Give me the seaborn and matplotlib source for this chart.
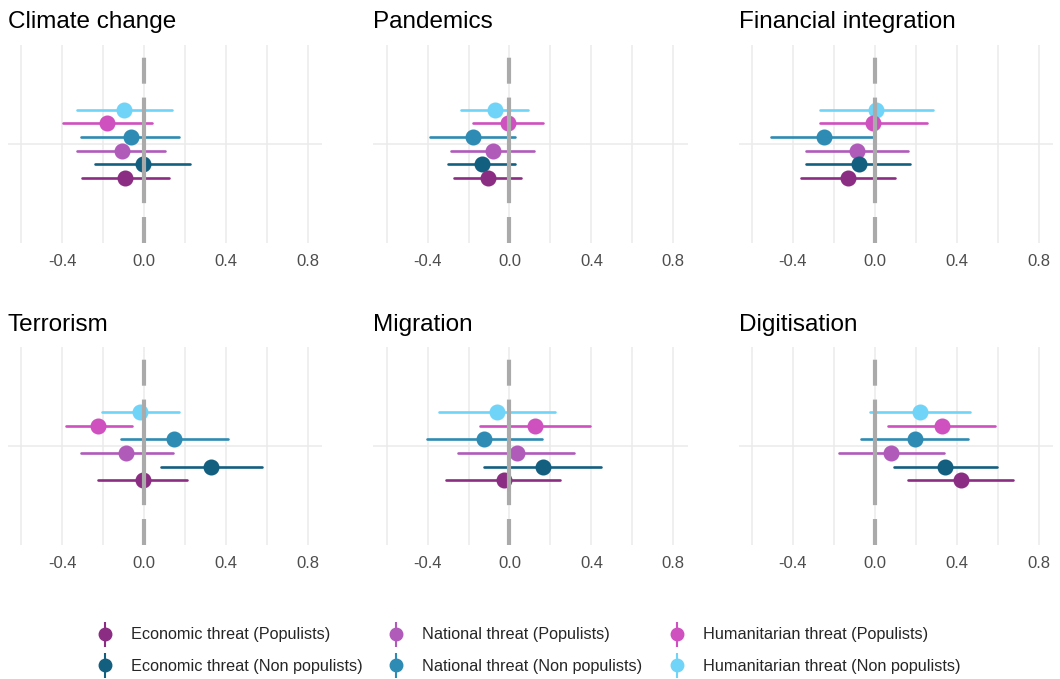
import numpy as np
import pandas as pd
import matplotlib
matplotlib.use("Agg")
import matplotlib.pyplot as plt
from matplotlib.lines import Line2D
import seaborn as sns

# Facets and series
facets = ["Climate change", "Pandemics", "Financial integration",
          "Terrorism", "Migration", "Digitisation"]
series = ["Economic threat (Populists)", "Economic threat (Non populists)",
          "National threat (Populists)", "National threat (Non populists)",
          "Humanitarian threat (Populists)", "Humanitarian threat (Non populists)"]
colors = ["#8B2D82", "#135F80", "#B05ABA", "#2E8BB3", "#CF50BF", "#70D4F8"]

# point estimates (rows = facets, columns = series)
est = [
    [-0.093, -0.008, -0.110, -0.065, -0.182, -0.098],
    [-0.106, -0.133, -0.081, -0.179, -0.008, -0.073],
    [-0.129, -0.077, -0.085, -0.248, -0.007, 0.008],
    [-0.008, 0.327, -0.087, 0.147, -0.224, -0.021],
    [-0.029, 0.166, 0.036, -0.122, 0.125, -0.060],
    [0.420, 0.344, 0.081, 0.197, 0.326, 0.220],
]
lower = [
    [-0.304, -0.239, -0.328, -0.306, -0.395, -0.330],
    [-0.272, -0.298, -0.285, -0.387, -0.179, -0.239],
    [-0.358, -0.334, -0.334, -0.508, -0.267, -0.267],
    [-0.224, 0.082, -0.307, -0.114, -0.384, -0.208],
    [-0.309, -0.122, -0.249, -0.403, -0.146, -0.345],
    [0.164, 0.094, -0.174, -0.065, 0.062, -0.023],
]
upper = [
    [0.122, 0.224, 0.102, 0.171, 0.036, 0.135],
    [0.057, 0.028, 0.119, 0.029, 0.166, 0.089],
    [0.098, 0.171, 0.163, -0.007, 0.257, 0.282],
    [0.209, 0.575, 0.139, 0.408, -0.057, 0.172],
    [0.249, 0.447, 0.314, 0.159, 0.395, 0.223],
    [0.673, 0.596, 0.339, 0.453, 0.588, 0.466],
]

# long table: lower / estimate / upper per series, median = estimate
rows = []
for i, f in enumerate(facets):
    for j, s in enumerate(series):
        for v in (lower[i][j], est[i][j], upper[i][j]):
            rows.append({"facet": f, "series": s, "value": v, "row": "all"})
df = pd.DataFrame(rows)

sns.set_style("white")
plt.rcParams["font.family"] = ["Liberation Sans", "DejaVu Sans"]
plt.rcParams["lines.scale_dashes"] = False

palette = dict(zip(series, colors))
hue_order = series[::-1]  # top of each panel = Humanitarian (Non populists)

fig, axes = plt.subplots(2, 3, figsize=(10.6, 6.79), dpi=100)
fig.subplots_adjust(left=0.0075, right=0.9934, top=0.9337, bottom=0.1974,
                    wspace=0.162, hspace=0.53)

for ax, f in zip(axes.flat, facets):
    sub = df[df["facet"] == f]
    sns.pointplot(data=sub, x="value", y="row", hue="series", hue_order=hue_order,
                  palette=palette, estimator="median",
                  errorbar=lambda v: (v.min(), v.max()),
                  dodge=0.4167, linestyle="none", markersize=9.5,
                  err_kws={"linewidth": 1.9}, orient="h", legend=False, ax=ax)
    ax.axvline(0, color="#AAAAAA", linewidth=3, zorder=5,
               dash_capstyle="butt", linestyle=(0, (18.7, 10, 76, 10, 18.7, 20)))
    ax.set_xlim(-0.665, 0.87)
    ax.set_ylim(0.6, -0.6)
    ax.set_xticks([-0.4, 0.0, 0.4, 0.8])
    ax.set_xticklabels(["-0.4", "0.0", "0.4", "0.8"])
    ax.set_xticks([-0.6, -0.2, 0.2, 0.6], minor=True)
    ax.set_yticks([0])
    ax.set_yticklabels([])
    ax.grid(True, axis="x", which="both", color="#EBEBEB", linewidth=1.1)
    ax.grid(True, axis="y", which="major", color="#EBEBEB", linewidth=1.1)
    ax.set_axisbelow(True)
    ax.tick_params(axis="both", which="both", length=0, labelsize=12,
                   labelcolor="#4D4D4D", pad=8)
    ax.set_xlabel("")
    ax.set_ylabel("")
    for sp in ax.spines.values():
        sp.set_visible(False)
    ax.set_title(f, loc="left", fontsize=17.5, color="black", pad=12)

# legend: pointrange style keys
handles = []
for c in colors:
    handles.append((Line2D([], [], marker="|", markersize=18, markeredgewidth=1.5,
                           color=c, linestyle="none"),
                    Line2D([], [], marker="o", markersize=9, color=c, linestyle="none")))
fig.legend(handles, series, ncol=3, loc="center", bbox_to_anchor=(0.4976, 1 - 650.5 / 679),
           frameon=False, fontsize=11.7, handlelength=1.2, handletextpad=1.0,
           columnspacing=1.5, labelspacing=1.0)

fig.savefig("out.png", dpi=100)
